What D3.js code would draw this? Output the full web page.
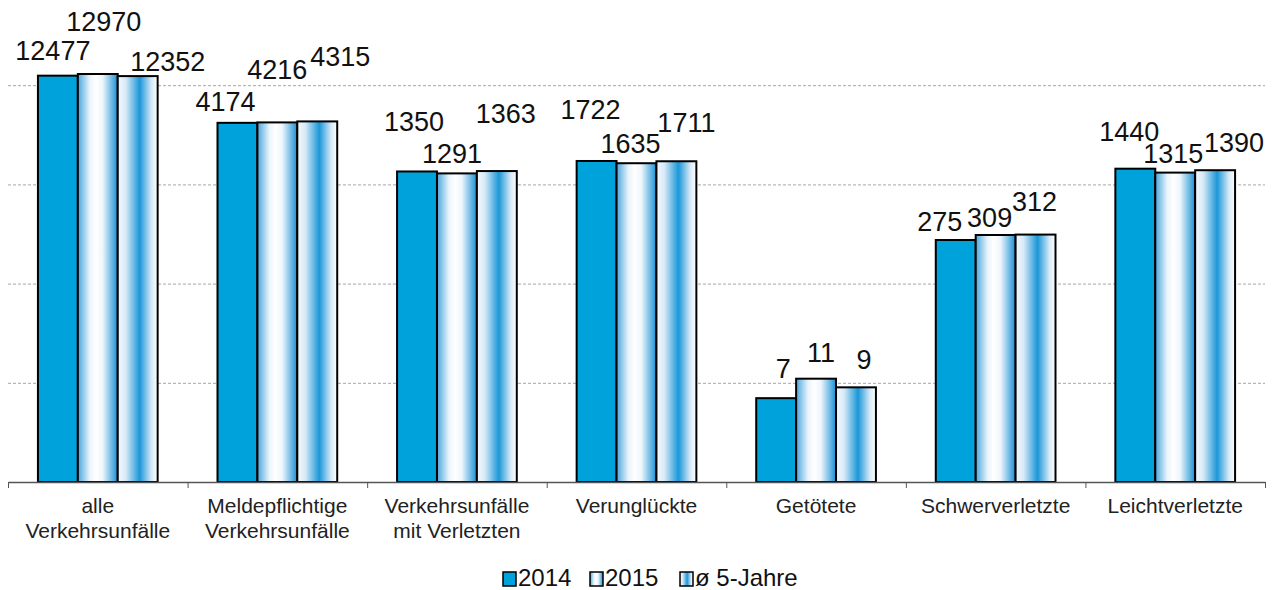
<!DOCTYPE html>
<html>
<head>
<meta charset="utf-8">
<script src="https://cdn.jsdelivr.net/npm/d3@7"></script>
<style>
  body { margin: 0; background: #fff; }
  svg { font-family: "Liberation Sans", Arial, sans-serif; }
  .grid line { stroke: #a6a6a6; stroke-dasharray: 3,2; }
  .grid .domain { display: none; }
</style>
</head>
<body>
<svg width="1275" height="590"></svg>
<script>
// Kategorien (zweizeilig)
var categories = [
  ["alle", "Verkehrsunfälle"],
  ["Meldepflichtige", "Verkehrsunfälle"],
  ["Verkehrsunfälle", "mit Verletzten"],
  ["Verunglückte"],
  ["Getötete"],
  ["Schwerverletzte"],
  ["Leichtverletzte"]
];
var seriesNames = ["2014", "2015", "ø 5-Jahre"];
var values2014 = [12477, 4174, 1350, 1722, 7, 275, 1440];
var values2015 = [12970, 4216, 1291, 1635, 11, 309, 1315];
var values5J   = [12352, 4315, 1363, 1711, 9, 312, 1390];
var gridValues = [10, 100, 1000, 10000];

// Beschriftungen wurden im Original von Hand verschoben: [dx, dy] je Balken
var labelNudge = [
  [[-5, -16], [6, -43], [30, -5]],
  [[-12, -12], [0, -43], [23, -55]],
  [[-3, -40], [-5, -10], [9, -48]],
  [[-6, -42], [-6, -10], [10, -29]],
  [[7, -20], [5, -17], [8, -18]],
  [[-16, -9], [-6, -8], [-1, -24]],
  [[-6, -28], [-2, -10], [19, -18]]
];

var svg = d3.select("svg"),
    margin = {left: 8, right: 10},
    left = margin.left, right = 1275 - margin.right,
    axisY = 482;

var defs = svg.append("defs");
var g15 = defs.append("linearGradient").attr("id", "grad2015");
[["0%", "#4aa6dd"], ["30%", "#eaf4fb"], ["45%", "#ffffff"], ["62%", "#eef6fc"], ["100%", "#1890d4"]]
  .forEach(function(s){ g15.append("stop").attr("offset", s[0]).attr("stop-color", s[1]); });
var g5 = defs.append("linearGradient").attr("id", "grad5J");
[["0%", "#f4f9fd"], ["20%", "#d8eaf7"], ["55%", "#1b97d8"], ["85%", "#d8eaf7"], ["100%", "#ffffff"]]
  .forEach(function(s){ g5.append("stop").attr("offset", s[0]).attr("stop-color", s[1]); });

var fills = ["#00a2dc", "url(#grad2015)", "url(#grad5J)"];

var data = categories.map(function(c, i){
  return { cat: c, vals: [values2014[i], values2015[i], values5J[i]] };
});

var x0 = d3.scaleBand().domain(d3.range(categories.length)).range([left, right]).paddingInner(0).paddingOuter(0);
var x1 = d3.scaleBand().domain(d3.range(3)).range([x0.bandwidth() / 6, x0.bandwidth() * 5 / 6]);
var y = d3.scaleLog().domain([1, 100000]).range([axisY, axisY - 5 * 99.2]);

// Gitternetzlinien
svg.append("g")
   .attr("class", "grid")
   .attr("transform", "translate(" + left + ",0)")
   .call(d3.axisLeft(y).tickValues(gridValues).tickSize(-(right - left)).tickFormat(""));

// Balken
var group = svg.selectAll(".cat")
  .data(data)
  .enter().append("g")
    .attr("class", "cat")
    .attr("transform", function(d, i){ return "translate(" + x0(i) + ",0)"; });

group.selectAll("rect")
  .data(function(d){ return d.vals; })
  .enter().append("rect")
    .attr("x", function(d, j){ return x1(j); })
    .attr("y", function(d){ return y(d); })
    .attr("width", x1.bandwidth())
    .attr("height", function(d){ return axisY - y(d); })
    .attr("fill", function(d, j){ return fills[j]; })
    .attr("stroke", "#000")
    .attr("stroke-width", 2);

group.each(function(d, i){
  d3.select(this).selectAll("text.val")
    .data(d.vals)
    .enter().append("text")
      .attr("class", "val")
      .attr("x", function(v, j){ return x1(j) + x1.bandwidth() / 2 + labelNudge[i][j][0]; })
      .attr("y", function(v, j){ return y(v) + labelNudge[i][j][1]; })
      .attr("text-anchor", "middle")
      .attr("font-size", 27)
      .attr("fill", "#111")
      .text(function(v){ return v; });
});

// x-Achse mit Teilstrichen an den Kategoriegrenzen
var xEdge = d3.scaleLinear().domain([0, categories.length]).range([left, right]);
var xAxis = svg.append("g")
   .attr("transform", "translate(0," + axisY + ")")
   .call(d3.axisBottom(xEdge).tickValues(d3.range(categories.length + 1)).tickSize(6).tickSizeOuter(0).tickFormat(""));
xAxis.selectAll("line").attr("stroke", "#555");
xAxis.select(".domain").attr("stroke", "#555").attr("stroke-width", 1.3);

// Kategorienbeschriftung
var catLabel = svg.selectAll(".catlabel")
  .data(categories)
  .enter().append("text")
    .attr("class", "catlabel")
    .attr("text-anchor", "middle")
    .attr("font-size", 21)
    .attr("fill", "#222")
    .attr("transform", function(d, i){ return "translate(" + (x0(i) + x0.bandwidth() / 2) + ",513)"; });
catLabel.selectAll("tspan")
  .data(function(d){ return d; })
  .enter().append("tspan")
    .attr("x", 0)
    .attr("dy", function(d, k){ return k === 0 ? 0 : 25; })
    .text(function(d){ return d; });

// Legende
var legendX = [503, 590, 680];
var legend = svg.selectAll(".legend")
  .data(seriesNames)
  .enter().append("g")
    .attr("class", "legend")
    .attr("transform", function(d, j){ return "translate(" + legendX[j] + ",572)"; });
legend.append("rect")
  .attr("width", 13).attr("height", 14)
  .attr("fill", function(d, j){ return fills[j]; })
  .attr("stroke", "#000").attr("stroke-width", 1.5);
legend.append("text")
  .attr("x", 15).attr("y", 14)
  .attr("font-size", 24)
  .attr("fill", "#111")
  .text(function(d){ return d; });
</script>
</body>
</html>
